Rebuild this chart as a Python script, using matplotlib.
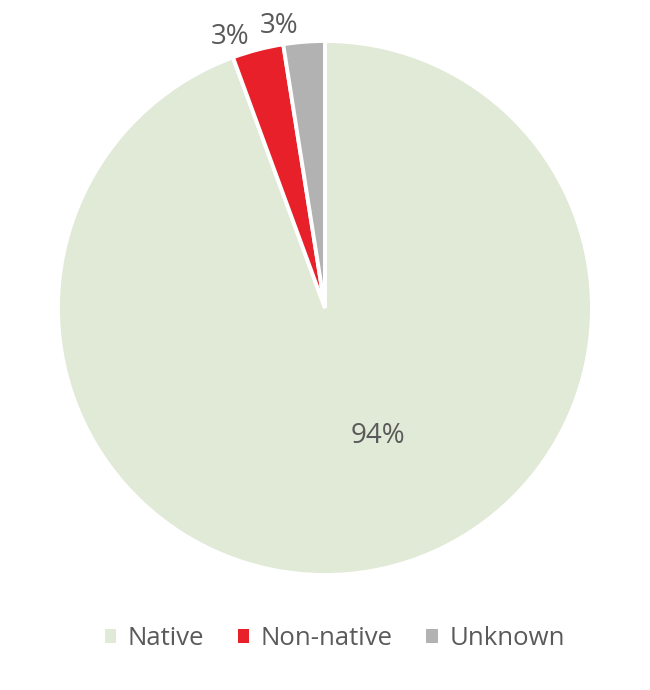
import matplotlib
matplotlib.use("Agg")
import matplotlib.pyplot as plt
import numpy as np
from matplotlib.patches import Patch

categories = ["Native", "Non-native", "Unknown"]
values = [94.4, 3.1, 2.5]
labels = ["94%", "3%", "3%"]
colors = ["#E0EAD7", "#E8202A", "#B2B2B2"]
text_color = "#5A5A5A"

plt.rcParams['font.family'] = ['Open Sans', 'DejaVu Sans']

fig = plt.figure(figsize=(6.5, 6.9), dpi=100)
ax = fig.add_axes([0.0892, 0.1667, 0.8215, 0.7739])
wedges, _ = ax.pie(values, colors=colors, startangle=90, counterclock=False,
                   radius=1.0, wedgeprops=dict(edgecolor="white", linewidth=2.8))
ax.set_xlim(-1, 1)
ax.set_ylim(-1, 1)
ax.set_aspect('equal')
ax.axis('off')

# label positions (angle from 12 o'clock clockwise in degrees, radial distance)
label_pos = [(157.7, 0.52), (-19.3, 1.075), (-9.2, 1.07)]
for lab, (ang, r) in zip(labels, label_pos):
    a = np.deg2rad(90 - ang)
    ax.text(r * np.cos(a), r * np.sin(a), lab, ha='center', va='center',
            fontsize=20, color=text_color)

handles = [Patch(facecolor=c, edgecolor='none') for c in colors]
fig.legend(handles, categories, loc='center', bbox_to_anchor=(0.515, 0.075),
           ncol=3, frameon=False, prop=dict(size=18.5),
           labelcolor=text_color,
           handlelength=0.45, handleheight=0.45, handletextpad=0.45,
           columnspacing=1.3)

fig.savefig("out.png", dpi=100)
